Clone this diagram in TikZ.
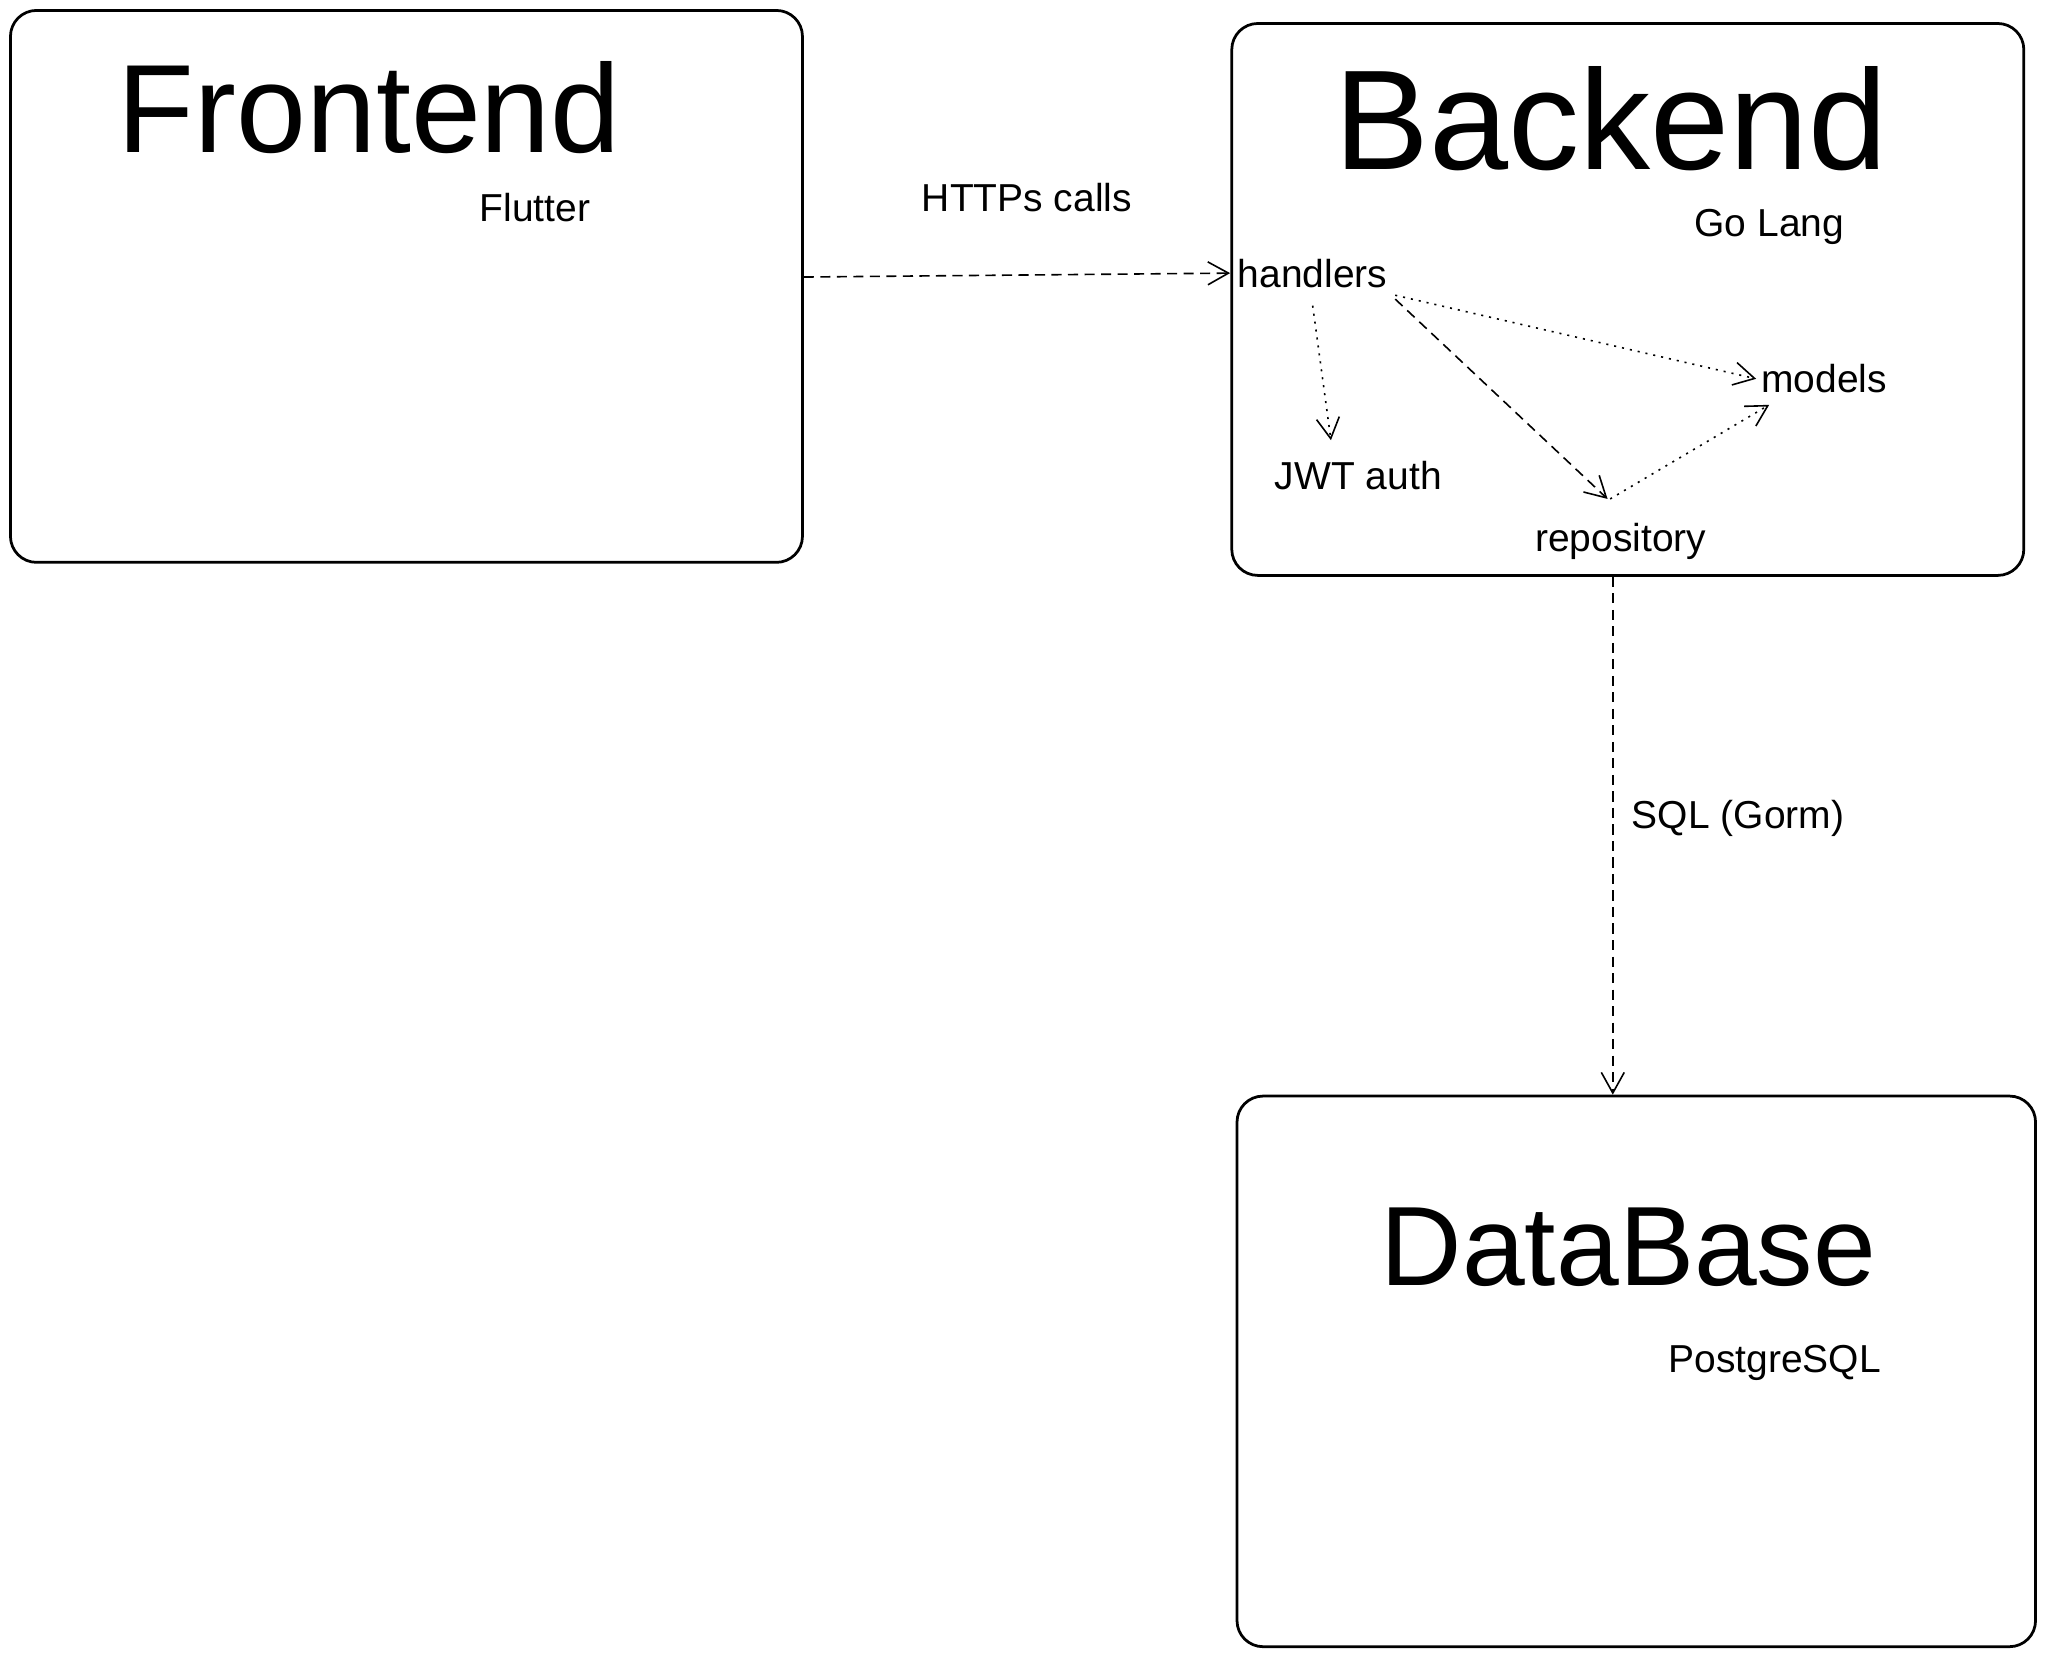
\documentclass[tikz,border=0pt]{standalone}
\usepackage{fontspec}
\setmainfont{Liberation Sans}
\usetikzlibrary{arrows.meta}
\tikzset{
    layer-box/.style = {draw=black, line width=0.6pt, rectangle, rounded corners=2mm, inner sep=0pt},
    layer-title/.style = {anchor=base, inner sep=1pt},
    small-label/.style = {anchor=base, inner sep=1.5pt, font=\fontsize{8.5}{10}\selectfont},
    call-arrow/.style = {-{Straight Barb[length=4.5pt,width=5pt]}, line width=0.35pt, dash pattern=on 2.2pt off 1.4pt},
    use-arrow/.style = {-{Straight Barb[length=4.5pt,width=5pt]}, line width=0.35pt, dash pattern=on 0.45pt off 1.3pt},
}

\begin{document}
\begin{tikzpicture}[x=0.1mm, y=-0.1mm]
\useasboundingbox (0,0) rectangle (1568,1270);

% the three layers
\node[layer-box, minimum width=60.7mm, minimum height=42.3mm] (frontend) at (311.5,219.5) {};
\node[layer-box, minimum width=60.7mm, minimum height=42.3mm] (backend) at (1247.5,229.5) {};
\node[layer-box, minimum width=61.2mm, minimum height=42.2mm] (database) at (1254,1051) {};

\node[layer-title, font=\fontsize{27.4}{30}\selectfont] (frontend-title) at (283,117) {Frontend};
\node[small-label] (flutter) at (410,170) {Flutter};
\node[layer-title, font=\fontsize{31}{34}\selectfont] (backend-title) at (1235,130) {Backend};
\node[small-label] (golang) at (1356,181) {Go Lang};
\node[layer-title, font=\fontsize{24.6}{28}\selectfont] (database-title) at (1248,985) {DataBase};
\node[small-label] (postgres) at (1360,1052) {PostgreSQL};

% inside the backend
\node[small-label] (handlers) at (1006,220) {handlers};
\node[small-label] (models) at (1398,301) {models};
\node[small-label] (jwt) at (1041,375) {JWT auth};
\node[small-label] (repository) at (1242,423) {repository};

% calls
\draw[call-arrow] ([yshift=-0.3mm]frontend.east |- handlers.west) -- (handlers.west);
\node[small-label] (https) at (787,162) {HTTPs calls};
\draw[use-arrow] ([yshift=-0.8mm]handlers.south) -- ([xshift=-2.1mm,yshift=1mm]jwt.north);
\draw[call-arrow] ([yshift=-0.3mm]handlers.south east) -- ([xshift=-1mm,yshift=1.3mm]repository.north);
\draw[use-arrow] (handlers.south east) -- ([xshift=0.2mm]models.west);
\draw[use-arrow] ([xshift=-0.8mm,yshift=1.3mm]repository.north) -- ([xshift=1.2mm,yshift=-0.3mm]models.south west);
\draw[call-arrow] ([xshift=-0.6mm]backend.south -| repository) -- ([xshift=-0.6mm]database.north -| repository);
\node[small-label] (sql) at (1332,635) {SQL (Gorm)};
\end{tikzpicture}
\end{document}
